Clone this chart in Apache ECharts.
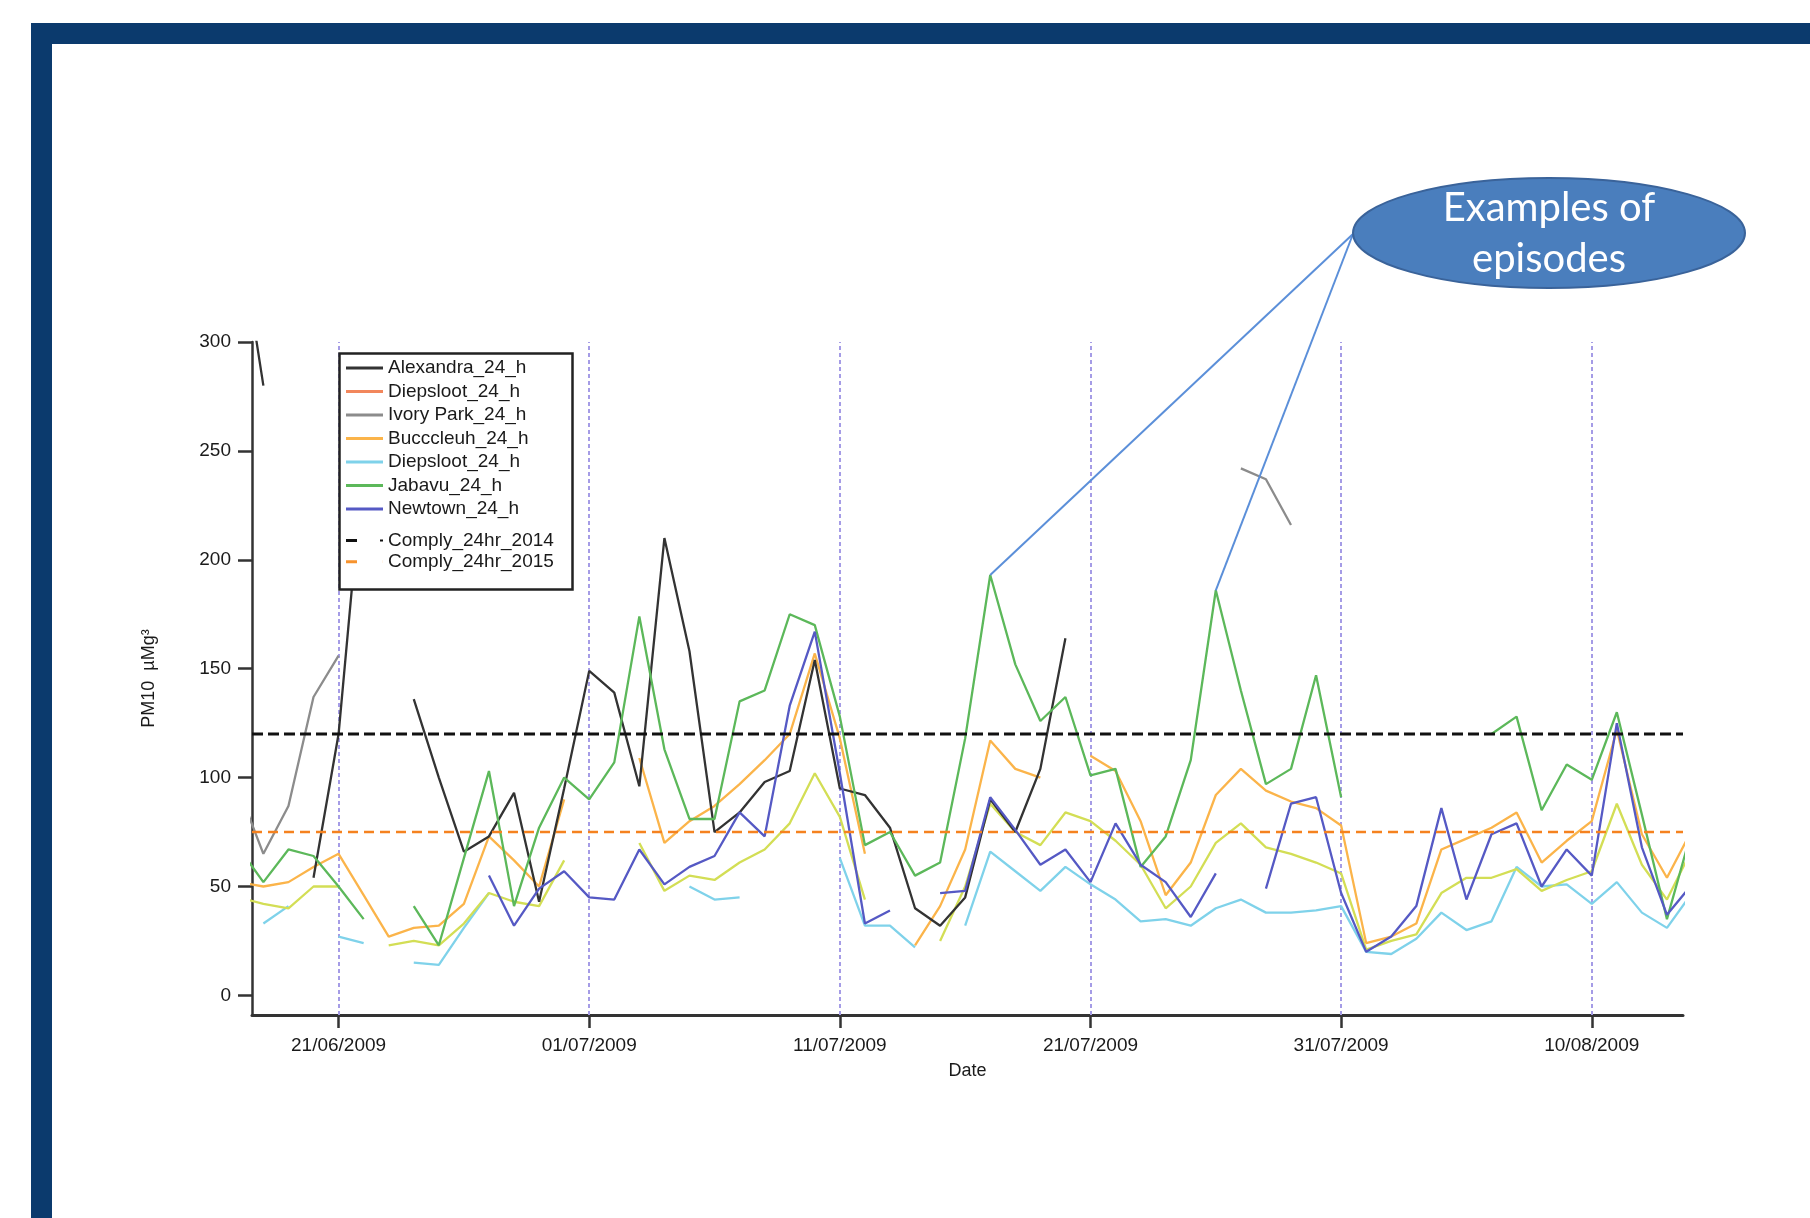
<!DOCTYPE html>
<html>
<head>
<meta charset="utf-8">
<script src="https://cdn.jsdelivr.net/npm/echarts@6/dist/echarts.min.js"></script>
<style>
html,body{margin:0;padding:0;background:#ffffff;}
#chart{width:1810px;height:1218px;}
</style>
</head>
<body>
<div id="chart"></div>
<script>
// ---- data (daily PM10, µg/m³), 17/06/2009 .. 14/08/2009 ----
const dates = [
'2009-06-17','2009-06-18','2009-06-19','2009-06-20','2009-06-21','2009-06-22','2009-06-23','2009-06-24','2009-06-25','2009-06-26','2009-06-27','2009-06-28','2009-06-29','2009-06-30',
'2009-07-01','2009-07-02','2009-07-03','2009-07-04','2009-07-05','2009-07-06','2009-07-07','2009-07-08','2009-07-09','2009-07-10',
'2009-07-11','2009-07-12','2009-07-13','2009-07-14','2009-07-15','2009-07-16','2009-07-17','2009-07-18','2009-07-19','2009-07-20',
'2009-07-21','2009-07-22','2009-07-23','2009-07-24','2009-07-25','2009-07-26','2009-07-27','2009-07-28','2009-07-29','2009-07-30','2009-07-31',
'2009-08-01','2009-08-02','2009-08-03','2009-08-04','2009-08-05','2009-08-06','2009-08-07','2009-08-08','2009-08-09','2009-08-10',
'2009-08-11','2009-08-12','2009-08-13','2009-08-14'];

const alexandra = [354,280,null,54,120,246,null,136,100,66,73,93,43,95,149,139,96,210,158,75,84,98,103,154,95,92,77,40,32,45,90,75,104,164,
  null,null,null,null,null,null,null,null,null,null,null,null,null,null,null,null,null,null,null,null,null,null,null,null,null];
const diepsloot = [];
const ivoryPark = [95,65,87,137,156,
  null,null,null,null,null,null,null,null,null,null,null,null,null,null,null,null,null,null,null,null,null,null,null,null,null,null,null,null,null,null,null,null,null,null,null,
  242,237,216,
  null,null,null,null,null,null,null,null,null,null,null,null,null,null,null,null];
const bucccleuh = [52,50,52,59,65,46,27,31,32,42,73,62,50,90,null,null,109,70,80,87,97,108,120,157,118,65,null,23,41,67,117,104,100,null,110,103,80,46,61,92,104,94,89,86,78,24,27,33,67,72,77,84,61,71,80,122,74,54,76];
const diepsloot2 = [null,33,41,null,27,24,null,15,14,31,47,null,null,null,null,null,null,null,50,44,45,null,null,null,63,32,32,22,null,32,66,57,48,59,51,44,34,35,32,40,44,38,38,39,41,20,19,26,38,30,34,59,50,51,42,52,38,31,47];
const jabavu = [68,52,67,64,50,35,null,41,23,63,103,41,77,100,90,107,174,113,81,81,135,140,175,170,128,69,75,55,61,118,193,152,126,137,101,104,59,73,108,186,140,97,104,147,91,null,null,null,null,null,120,128,85,106,99,130,83,35,76];
const newtown = [null,null,null,null,null,null,null,null,null,null,55,32,49,57,45,44,67,51,59,64,84,73,133,167,102,33,39,null,47,48,91,76,60,67,52,79,60,52,36,56,null,49,88,91,47,20,27,41,86,44,74,79,50,67,55,125,68,37,51];
const unlabelled = [45,42,40,50,50,null,23,25,23,33,47,43,41,62,null,null,70,48,55,53,61,67,79,102,82,44,null,null,25,50,88,75,69,84,80,71,60,40,50,70,79,68,65,61,56,21,25,28,47,54,54,58,48,53,57,88,60,44,67];

const comply2014 = [120, 120];
const comply2015 = [75, 75];

const xRange = ['2009-06-17 13:06', '2009-08-13 15:22'];
const xTicks = ['2009-06-21','2009-07-01','2009-07-11','2009-07-21','2009-07-31','2009-08-10'];
const yTicks = [0, 50, 100, 150, 200, 250, 300];
const episodeDates = ['2009-07-17', '2009-07-26'];

// ---- helpers ----
function ts(s) {
  const m = s.match(/^(\d{4})-(\d{2})-(\d{2})(?:\s+(\d{2}):(\d{2}))?$/);
  return new Date(+m[1], +m[2] - 1, +m[3], m[4] ? +m[4] : 0, m[5] ? +m[5] : 0).getTime();
}
const pair = arr => dates.map((d, i) => [ts(d), arr[i] === undefined ? null : arr[i]]);
const pad = n => (n < 10 ? '0' : '') + n;
const fmtDate = v => { const d = new Date(v); return pad(d.getDate()) + '/' + pad(d.getMonth() + 1) + '/' + d.getFullYear(); };

const FONT = 'Liberation Sans';
const TXT = '#1a1a1a';
const ell = { cx: 1549, cy: 233, rx: 196, ry: 55 };
const anchor = { x: ell.cx - ell.rx, y: ell.cy + 1 };

function lineSeries(name, data, color, extra) {
  return Object.assign({
    name: name,
    type: 'line',
    data: pair(data),
    color: color,
    showSymbol: false,
    symbol: 'none',
    connectNulls: false,
    clip: true,
    silent: true,
    lineStyle: { color: color, width: 2.3 },
    emphasis: { disabled: true },
    z: 2
  }, extra || {});
}

const chart = echarts.init(document.getElementById('chart'), null, { renderer: 'canvas' });

const xTickVals = xTicks.map(ts);

const option = {
  animation: false,
  backgroundColor: '#ffffff',
  grid: { left: 252, right: 127, top: 342, bottom: 203, containLabel: false },
  xAxis: {
    type: 'value',
    min: ts(xRange[0]),
    max: ts(xRange[1]),
    name: 'Date',
    nameLocation: 'middle',
    nameGap: 47,
    nameTextStyle: { fontFamily: FONT, fontSize: 18, color: TXT, verticalAlign: 'top' },
    axisLine: { onZero: false, lineStyle: { color: '#333', width: 3 } },
    axisTick: { show: true, length: 13, lineStyle: { color: '#333', width: 2.5 }, customValues: xTickVals },
    axisLabel: { customValues: xTickVals, margin: 21, fontFamily: FONT, fontSize: 19, color: TXT, formatter: v => fmtDate(v), hideOverlap: false },
    splitLine: { show: false },
    minorTick: { show: false }
  },
  yAxis: {
    type: 'value',
    min: -9,
    max: 300,
    name: 'PM10  µMg³',
    nameLocation: 'middle',
    nameRotate: 90,
    nameGap: 94,
    nameTextStyle: { fontFamily: FONT, fontSize: 18, color: TXT },
    axisLine: { show: true, onZero: false, lineStyle: { color: '#333', width: 2.5 } },
    axisTick: { show: true, length: 14, lineStyle: { color: '#333', width: 2.5 }, customValues: yTicks },
    axisLabel: { customValues: yTicks, margin: 21, fontFamily: FONT, fontSize: 19, color: TXT },
    splitLine: { show: false }
  },
  legend: [
    {
      z: 60,
      left: 346, top: 358,
      orient: 'vertical',
      padding: 0,
      itemGap: 3.5,
      itemWidth: 37, itemHeight: 3,
      icon: 'rect',
      selectedMode: false,
      itemStyle: { borderWidth: 0 },
      textStyle: { fontFamily: FONT, fontSize: 19, color: TXT, lineHeight: 20 },
      formatter: n => n.split('#')[0],
      data: ['Alexandra_24_h', 'Diepsloot_24_h', 'Ivory Park_24_h', 'Bucccleuh_24_h', 'Diepsloot_24_h#2', 'Jabavu_24_h', 'Newtown_24_h']
    },
    {
      z: 60,
      left: 346, top: 530.5,
      orient: 'vertical',
      padding: 0,
      itemGap: 1.3,
      itemWidth: 37, itemHeight: 3,
      selectedMode: false,
      itemStyle: { borderWidth: 0 },
      textStyle: { fontFamily: FONT, fontSize: 19, color: TXT, lineHeight: 20 },
      data: [
        { name: 'Comply_24hr_2014', icon: 'path://M0,0H11V3H0Z M34,0.5H37V2.5H34Z' },
        { name: 'Comply_24hr_2015', icon: 'path://M0,0H11V3H0Z M36.9,0H37V3H36.9Z' }
      ]
    }
  ],
  graphic: [
    { type: 'rect', z: 100, shape: { x: 31, y: 23, width: 1779, height: 21 }, style: { fill: '#0b3a6d' } },
    { type: 'rect', z: 100, shape: { x: 31, y: 23, width: 21, height: 1195 }, style: { fill: '#0b3a6d' } },
    { type: 'rect', z: 50, shape: { x: 339.5, y: 353.5, width: 233, height: 236 }, style: { fill: '#ffffff', stroke: '#222', lineWidth: 2.5 } },
    { type: 'ellipse', z: 70, shape: ell, style: { fill: '#4a7ebd', stroke: '#3a639a', lineWidth: 2 } },
    { type: 'text', z: 71, x: ell.cx, y: 208, style: { text: 'Examples of', fill: '#ffffff', font: '40px Lato', align: 'center', verticalAlign: 'middle' } },
    { type: 'text', z: 71, x: ell.cx, y: 259, style: { text: 'episodes', fill: '#ffffff', font: '40px Lato', align: 'center', verticalAlign: 'middle' } }
  ],
  series: [
    lineSeries('Diepsloot_24_h#2', diepsloot2, '#7fd2ea', {
      markLine: {
        silent: true, z: 1, symbol: ['none', 'none'], label: { show: false },
        lineStyle: { color: '#a59ce6', width: 2, type: [4, 3] },
        data: xTickVals.map(t => ({ xAxis: t }))
      }
    }),
    lineSeries('Unlabelled_24_h', unlabelled, '#d3de55'),
    lineSeries('Diepsloot_24_h', diepsloot, '#f2875c'),
    lineSeries('Bucccleuh_24_h', bucccleuh, '#fbb44a'),
    lineSeries('Ivory Park_24_h', ivoryPark, '#8c8c8c'),
    lineSeries('Alexandra_24_h', alexandra, '#333333'),
    lineSeries('Jabavu_24_h', jabavu, '#5cb85a', {
      markLine: {
        silent: true, z: 6, symbol: ['none', 'none'], label: { show: false },
        lineStyle: { color: '#5b8fd9', width: 2, type: 'solid' },
        data: episodeDates.map(d => [
          { x: anchor.x, y: anchor.y },
          { coord: [ts(d), jabavu[dates.indexOf(d)]] }
        ])
      }
    }),
    lineSeries('Newtown_24_h', newtown, '#5559c4'),
    {
      name: 'Comply_24hr_2014', type: 'line', silent: true, symbol: 'none', z: 3,
      color: '#111111',
      data: xRange.map((d, i) => [ts(d), comply2014[i]]),
      lineStyle: { color: '#111111', width: 3, type: [11, 5] }
    },
    {
      name: 'Comply_24hr_2015', type: 'line', silent: true, symbol: 'none', z: 3,
      color: '#f7932e',
      data: xRange.map((d, i) => [ts(d), comply2015[i]]),
      lineStyle: { color: '#f5821f', width: 2.5, type: [10, 6] }
    }
  ]
};
chart.setOption(option);
</script>
</body>
</html>
